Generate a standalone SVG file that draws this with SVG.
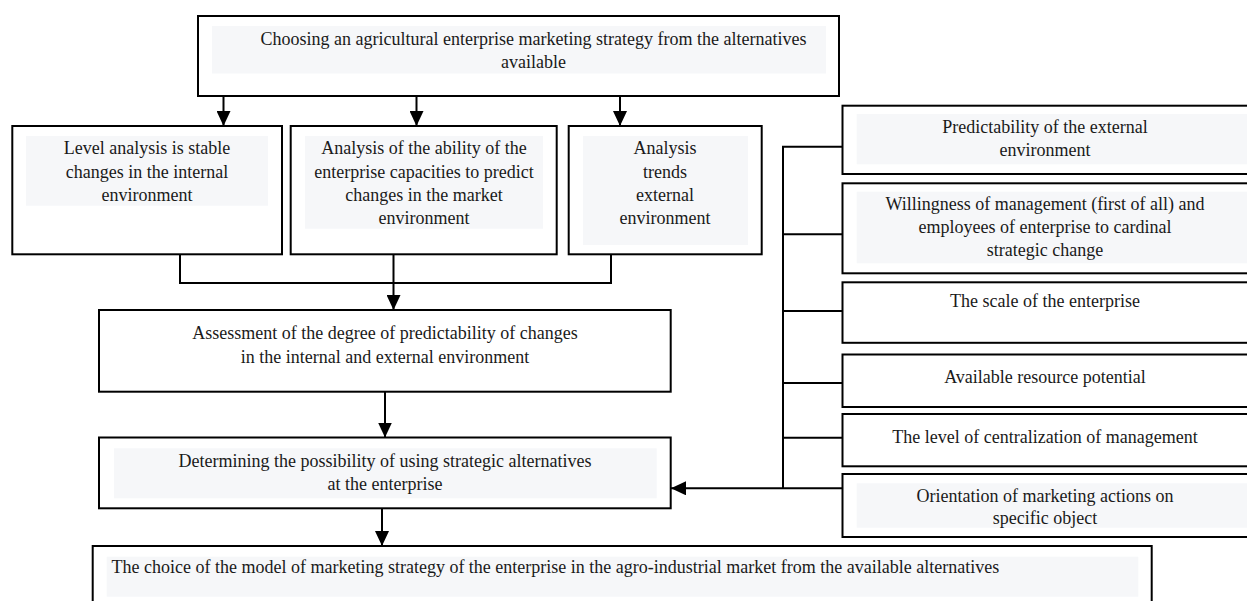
<svg xmlns="http://www.w3.org/2000/svg" width="1247" height="601" viewBox="0 0 1247 601">
<defs>
<marker id="ah" markerUnits="userSpaceOnUse" markerWidth="15" markerHeight="14" refX="15" refY="7" orient="auto" viewBox="0 0 15 14">
<path d="M0,0 L15,7 L0,14 z" fill="#000"/>
</marker>
</defs>
<style>
.box{fill:#fff;stroke:#000;stroke-width:2}
.bg{fill:#f6f7f9;stroke:none}
.t{font-family:"Liberation Serif","Times New Roman",serif;font-size:18px;fill:#1a1a1a;text-anchor:middle}
.tl{font-family:"Liberation Serif","Times New Roman",serif;font-size:18px;fill:#1a1a1a;text-anchor:start}
.ln{fill:none;stroke:#000;stroke-width:2}
.ar{fill:none;stroke:#000;stroke-width:2;marker-end:url(#ah)}
</style>
<rect width="1247" height="601" fill="#fff"/>

<g id="connectors">
<line class="ar" x1="223.5" y1="96" x2="223.5" y2="126"/>
<line class="ar" x1="416.5" y1="96" x2="416.5" y2="126"/>
<line class="ar" x1="620" y1="96" x2="620" y2="126"/>
<polyline class="ln" points="180,254 180,283 611,283 611,254"/>
<line class="ar" x1="393.5" y1="254" x2="393.5" y2="310"/>
<line class="ar" x1="385" y1="392" x2="385" y2="437.5"/>
<line class="ar" x1="382" y1="508.5" x2="382" y2="546"/>
<line class="ln" x1="783" y1="146.7" x2="783" y2="488"/>
<line class="ln" x1="782" y1="146.7" x2="842" y2="146.7"/>
<line class="ln" x1="783" y1="234.3" x2="842" y2="234.3"/>
<line class="ln" x1="783" y1="311" x2="842" y2="311"/>
<line class="ln" x1="783" y1="383" x2="842" y2="383"/>
<line class="ln" x1="783" y1="437.7" x2="842" y2="437.7"/>
<line class="ar" x1="842" y1="488.3" x2="671" y2="488.3"/>
</g>

<g id="n-top">
<rect class="box" x="198" y="16" width="641" height="80"/>
<rect class="bg" x="212" y="26" width="614" height="47.5"/>
<text class="t" x="533.5" y="45">Choosing an agricultural enterprise marketing strategy from the alternatives</text>
<text class="t" x="533.5" y="68.3">available</text>
</g>

<g id="n-level">
<rect class="box" x="12.3" y="126" width="269.7" height="128.3"/>
<rect class="bg" x="26" y="136" width="242" height="69.7"/>
<text class="t" x="147" y="154.3">Level analysis is stable</text>
<text class="t" x="147" y="177.7">changes in the internal</text>
<text class="t" x="147" y="201">environment</text>
</g>

<g id="n-ability">
<rect class="box" x="290.7" y="126" width="266" height="128.3"/>
<rect class="bg" x="305" y="136" width="238" height="92.7"/>
<text class="t" x="424" y="154.3">Analysis of the ability of the</text>
<text class="t" x="424" y="177.7">enterprise capacities to predict</text>
<text class="t" x="424" y="201">changes in the market</text>
<text class="t" x="424" y="224.3">environment</text>
</g>

<g id="n-trends">
<rect class="box" x="568.7" y="126" width="193" height="128.3"/>
<rect class="bg" x="583" y="136" width="165" height="109"/>
<text class="t" x="665" y="154.3">Analysis</text>
<text class="t" x="665" y="177.7">trends</text>
<text class="t" x="665" y="201">external</text>
<text class="t" x="665" y="224.3">environment</text>
</g>

<g id="n-assess">
<rect class="box" x="99" y="310" width="571.7" height="81.7"/>
<text class="t" x="385" y="339.3">Assessment of the degree of predictability of changes</text>
<text class="t" x="385" y="362.7">in the internal and external environment</text>
</g>

<g id="n-determine">
<rect class="box" x="99" y="437.5" width="571.7" height="70.8"/>
<rect class="bg" x="114" y="448.3" width="542.7" height="50"/>
<text class="t" x="385" y="467">Determining the possibility of using strategic alternatives</text>
<text class="t" x="385" y="489.5">at the enterprise</text>
</g>

<g id="n-choice">
<rect class="box" x="92.7" y="546" width="1059" height="70"/>
<rect class="bg" x="106.7" y="556.7" width="1031.6" height="40"/>
<text class="tl" x="111.5" y="572.5">The choice of the model of marketing strategy of the enterprise in the agro-industrial market from the available alternatives</text>
</g>

<g id="n-predict">
<rect class="box" x="842.5" y="105.7" width="410" height="68.3"/>
<rect class="bg" x="856.7" y="114" width="392" height="50.3"/>
<text class="t" x="1045" y="132.7">Predictability of the external</text>
<text class="t" x="1045" y="155.5">environment</text>
</g>

<g id="n-willing">
<rect class="box" x="842.5" y="183.3" width="410" height="90"/>
<rect class="bg" x="856.7" y="191.7" width="392" height="71.6"/>
<text class="t" x="1045" y="210">Willingness of management (first of all) and</text>
<text class="t" x="1045" y="233.3">employees of enterprise to cardinal</text>
<text class="t" x="1045" y="256.3">strategic change</text>
</g>

<g id="n-scale">
<rect class="box" x="842.5" y="282.3" width="410" height="60.5"/>
<text class="t" x="1045" y="307">The scale of the enterprise</text>
</g>

<g id="n-resource">
<rect class="box" x="842.5" y="354.5" width="410" height="52.5"/>
<text class="t" x="1045" y="383.3">Available resource potential</text>
</g>

<g id="n-central">
<rect class="box" x="842.5" y="414" width="410" height="52.3"/>
<text class="t" x="1045" y="443">The level of centralization of management</text>
</g>

<g id="n-orient">
<rect class="box" x="842.5" y="474" width="410" height="63"/>
<rect class="bg" x="856.7" y="483.3" width="392" height="44.4"/>
<text class="t" x="1045" y="501.7">Orientation of marketing actions on</text>
<text class="t" x="1045" y="524">specific object</text>
</g>
</svg>
